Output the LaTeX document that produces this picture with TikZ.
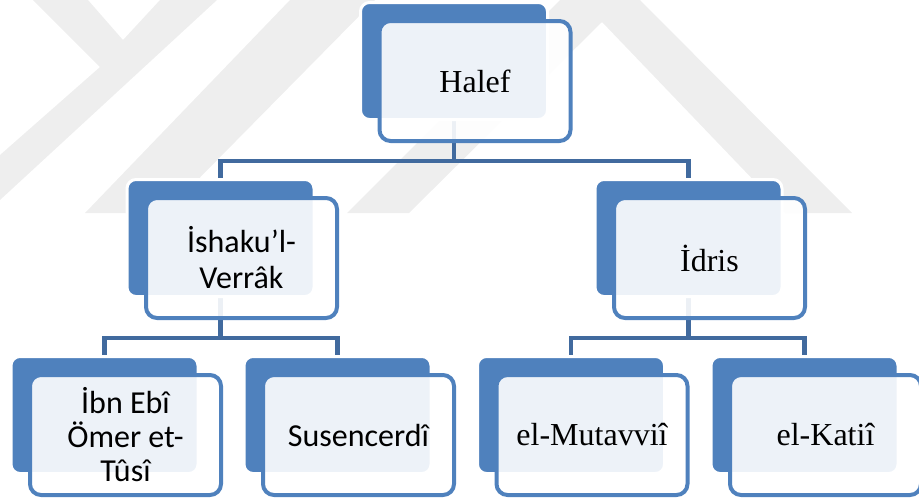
\documentclass[tikz,border=0pt]{standalone}
\usepackage{fontspec}
\setmainfont{Liberation Serif}
\newfontfamily\calfont{Carlito}
\usetikzlibrary{backgrounds}
\definecolor{mavi}{RGB}{79,129,189}
\definecolor{hatrengi}{RGB}{65,106,158}
\definecolor{filigran}{RGB}{238,238,238}
\tikzset{
  arkakutu/.style={draw=white, line width=3pt, fill=mavi, rounded corners=9pt,
    minimum width=187pt, minimum height=117pt, inner sep=0pt},
  onkutu/.style={draw=mavi, line width=4pt, fill=white, fill opacity=0.9, text opacity=1,
    rounded corners=11pt, minimum width=191pt, minimum height=120pt, inner sep=0pt, align=center},
  baglanti/.style={draw=hatrengi, line width=4.5pt},
  serifyazi/.style={font=\fontsize{32}{38}\selectfont},
  sansyazi/.style={font=\calfont\fontsize{32}{36}\selectfont}
}
% arka ve on kutu birlikte
\newcommand{\kutu}[5]{%
  \node[arkakutu] (#1b) at (#2,#3) {};
  \node[onkutu, #4] (#1) at (#2+21,#3+20) {#5};}
\begin{document}
\begin{tikzpicture}[x=1pt, y=-1pt, line join=miter]
	\useasboundingbox (0,0) rectangle (919,499);
	% Kutular
	\kutu{halef}{454}{61}{serifyazi}{Halef}
	\kutu{ishak}{220.5}{238}{sansyazi}{İshaku’l-\\Verrâk}
	\kutu{idris}{688.5}{238}{serifyazi}{İdris}
	\kutu{ibn}{104.5}{415}{font=\calfont\fontsize{32}{34}\selectfont}{İbn Ebî\\Ömer et-\\Tûsî}
	\kutu{susen}{337.5}{415}{sansyazi}{Susencerdî}
	\kutu{mutav}{571}{415}{serifyazi}{el-Mutavviî}
	\kutu{katii}{804.5}{415}{serifyazi}{el-Katiî}
	\begin{scope}[on background layer]
		% Filigran
		\fill[filigran] (33,0) -- (88,0) -- (123,40) -- (160,0) -- (217,0) -- (0,200) -- (0,155) -- (100,67) -- cycle;
		\fill[filigran] (290,0) -- (375,0) -- (165,213) -- (85,213) -- cycle;
		\fill[filigran] (560,0) -- (640,0) -- (852,213) -- (785,213) -- (602,22) -- (409,213) -- (347,213) -- cycle;
		% Baglantilar
		\draw[baglanti] (halefb.south) -- ++(0,40) coordinate (bus1);
		\draw[baglanti] (bus1) -| (ishakb.north);
		\draw[baglanti] (bus1) -| (idrisb.north);
		\draw[baglanti] (ishakb.south) -- ++(0,40) coordinate (bus2);
		\draw[baglanti] (bus2) -| (ibnb.north);
		\draw[baglanti] (bus2) -| (susenb.north);
		\draw[baglanti] (idrisb.south) -- ++(0,40) coordinate (bus3);
		\draw[baglanti] (bus3) -| (mutavb.north);
		\draw[baglanti] (bus3) -| (katiib.north);
	\end{scope}
\end{tikzpicture}
\end{document}
